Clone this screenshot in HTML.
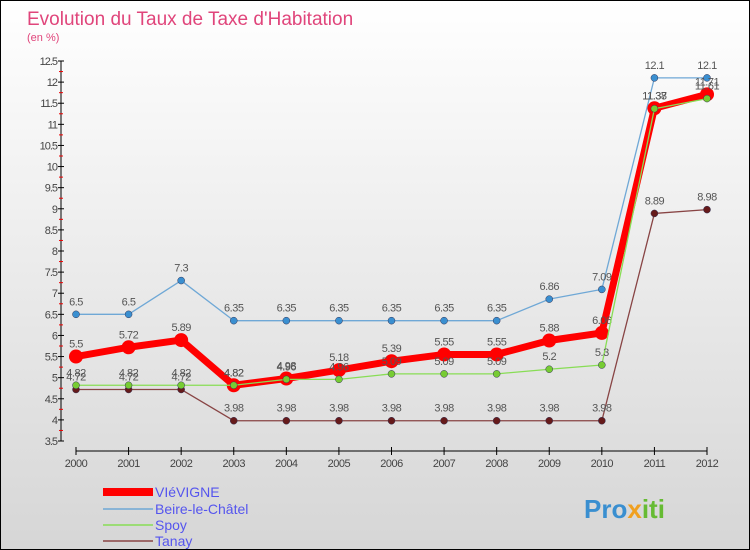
<!DOCTYPE html>
<html><head><meta charset="utf-8"><style>
body{margin:0;}
#c{width:748px;height:548px;border:1px solid #000;background:linear-gradient(#ffffff,#d6d6d6);position:relative;font-family:"Liberation Sans",sans-serif;overflow:hidden}
</style></head><body>
<div id="c">
<svg id="s" width="748" height="548" xmlns="http://www.w3.org/2000/svg" style="position:absolute;left:0;top:0">
<text x="26" y="24" font-size="19" fill="#e0457b">Evolution du Taux de Taxe d'Habitation</text>
<text x="26" y="40" font-size="11" fill="#e0457b">(en %)</text>
<g id="g"></g>
<g>
<rect x="102" y="487" width="50" height="8" fill="#f00"/>
<text x="154" y="496" font-size="14" fill="#5555ee">VIéVIGNE</text>
<line x1="102" y1="508" x2="152" y2="508" stroke="#6fa8d6" stroke-width="1.5"/>
<text x="154" y="513" font-size="14" fill="#5555ee">Beire-le-Châtel</text>
<line x1="102" y1="524" x2="152" y2="524" stroke="#88dd55" stroke-width="1.5"/>
<text x="154" y="529" font-size="14" fill="#5555ee">Spoy</text>
<line x1="102" y1="540" x2="152" y2="540" stroke="#884444" stroke-width="1.5"/>
<text x="154" y="545" font-size="14" fill="#5555ee">Tanay</text>
</g>
<text x="583" y="517" font-size="26" font-weight="bold" fill="#3a8fd0">Pro<tspan fill="#f0a020">x</tspan><tspan fill="#66bb33">iti</tspan></text>
</svg>
</div>
<script>
const years=[2000,2001,2002,2003,2004,2005,2006,2007,2008,2009,2010,2011,2012];
const vievigne=[5.5,5.72,5.89,4.82,4.98,5.18,5.39,5.55,5.55,5.88,6.06,11.38,11.71];
const beire=[6.5,6.5,7.3,6.35,6.35,6.35,6.35,6.35,6.35,6.86,7.09,12.1,12.1];
const spoy=[4.82,4.82,4.82,4.82,4.96,4.96,5.09,5.09,5.09,5.2,5.3,11.37,11.61];
const tanay=[4.72,4.72,4.72,3.98,3.98,3.98,3.98,3.98,3.98,3.98,3.98,8.89,8.98];
const yTicks=[3.5,4,4.5,5,5.5,6,6.5,7,7.5,8,8.5,9,9.5,10,10.5,11,11.5,12,12.5];
const NS='http://www.w3.org/2000/svg';
const g=document.getElementById('g');
const X=i=>75+i*(706-75)/(years.length-1);
const Y=v=>440-(v-3.5)*380/9;
function mk(t,a){const e=document.createElementNS(NS,t);for(const k in a)e.setAttribute(k,a[k]);g.appendChild(e);return e;}
let e=mk('line',{x1:60,y1:Y(12.5),x2:60,y2:Y(3.5),stroke:'#000'});


yTicks.forEach(v=>{
 mk('line',{x1:57,y1:Y(v),x2:63,y2:Y(v),stroke:'#000'});
 mk('line',{x1:58,y1:Y(v+0.25),x2:62,y2:Y(v+0.25),stroke:v<12.5?'#e00':'none'});
 const t=mk('text',{x:56,y:Y(v)+4,'font-size':11,'text-anchor':'end',fill:'#444','letter-spacing':'-1'});t.textContent=v;
 
 
});
e=mk('line',{x1:75,y1:450,x2:706,y2:450,stroke:'#000'});


years.forEach((y,i)=>{
 mk('line',{x1:X(i),y1:446,x2:X(i),y2:454,stroke:'#000'});
 const t=mk('text',{x:X(i),y:466,'font-size':11,'text-anchor':'middle',fill:'#444','letter-spacing':'-0.5'});t.textContent=y;
 
 
});
function series(d,col,w,r,dot,name){
 const p=mk('polyline',{points:d.map((v,i)=>X(i)+','+Y(v)).join(' '),fill:'none',stroke:col,'stroke-width':w,'stroke-linejoin':'round'});
 
 
 d.forEach((v,i)=>{
  const c=mk('circle',{cx:X(i),cy:Y(v),r:r,fill:dot,stroke:col==='#f00'?'#f00':'#335',"stroke-width":col==='#f00'?0:0.5});
  
  
  const t=mk('text',{x:X(i),y:Y(v)-9,'font-size':11,'text-anchor':'middle',fill:'#555','letter-spacing':'-0.5'});t.textContent=v;
  
  
 });
}
series(beire,'#6fa8d6',1.3,3.5,'#3a8fd0','beire');
series(tanay,'#884444',1.3,3.5,'#661a1a','tanay');
series(vievigne,'#f00',7,7,'#f00','vievigne');
series(spoy,'#88dd55',1.3,3.5,'#77cc33','spoy');
</script>
</body></html>
